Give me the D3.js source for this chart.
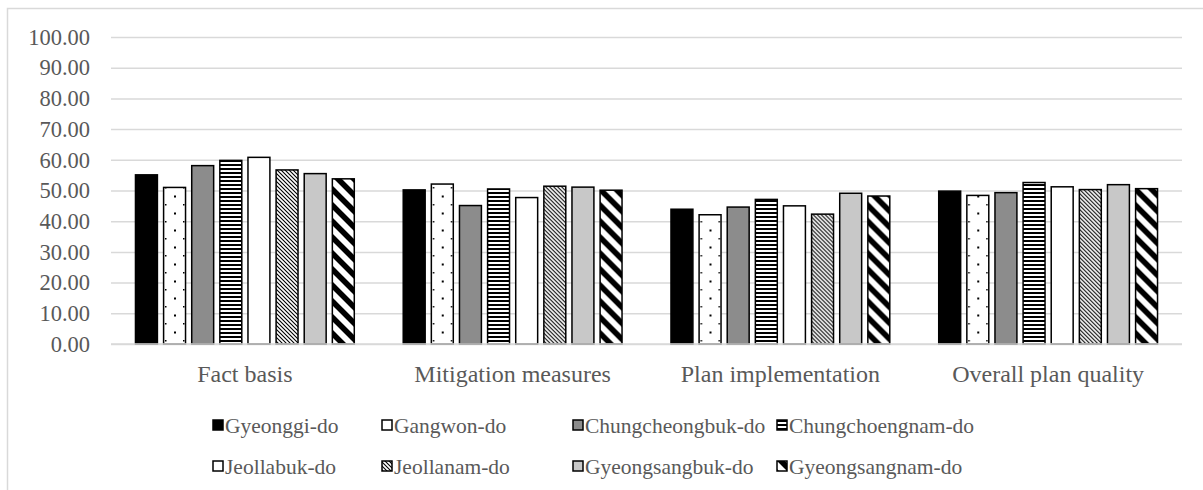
<!DOCTYPE html>
<html>
<head>
<meta charset="utf-8">
<script src="https://cdn.jsdelivr.net/npm/d3@7"></script>
<style>
  html, body { margin: 0; padding: 0; background: #ffffff; }
  svg { display: block; }
  text { font-family: "Liberation Serif", "Times New Roman", serif; fill: #595959; }
</style>
</head>
<body>
<svg id="chart" width="1203" height="490"></svg>
<script>
// ---- data ----
const categories = ["Fact basis", "Mitigation measures", "Plan implementation", "Overall plan quality"];
const regions = ["Gyeonggi-do", "Gangwon-do", "Chungcheongbuk-do", "Chungchoengnam-do",
                 "Jeollabuk-do", "Jeollanam-do", "Gyeongsangbuk-do", "Gyeongsangnam-do"];
const gyeonggi      = [55.1, 50.2, 43.9, 49.8];
const gangwon       = [51.0, 52.1, 42.1, 48.4];
const chungbuk      = [58.1, 45.1, 44.6, 49.3];
const chungnam      = [59.8, 50.5, 47.1, 52.6];
const jeollabuk     = [60.8, 47.7, 45.0, 51.2];
const jeollanam     = [56.7, 51.4, 42.3, 50.3];
const gyeongbuk     = [55.5, 51.1, 49.1, 51.9];
const gyeongnam     = [53.8, 50.1, 48.2, 50.6];
const yTicks = [0, 10, 20, 30, 40, 50, 60, 70, 80, 90, 100];

const seriesValues = [gyeonggi, gangwon, chungbuk, chungnam, jeollabuk, jeollanam, gyeongbuk, gyeongnam];

// ---- layout ----
const svg = d3.select("#chart");
const W = 1203, H = 490;
const plot = { left: 111, right: 1182, top: 37, bottom: 344 };
const TICK_FONT = 22.5, CAT_FONT = 24, LEG_FONT = 21.5;
const SERIF = "'Liberation Serif', 'Times New Roman', serif";

// chart border
svg.append("rect").attr("x", 7.5).attr("y", 8.5).attr("width", W + 10).attr("height", H + 10)
  .attr("fill", "none").attr("stroke", "#d9d9d9").attr("stroke-width", 1.5);

// patterns
const defs = svg.append("defs");
function pat(id, w, h) {
  return defs.append("pattern").attr("id", id).attr("patternUnits", "userSpaceOnUse")
    .attr("width", w).attr("height", h);
}
// dots
let p = pat("p-dots", 18, 17);
p.append("rect").attr("width", 18).attr("height", 17).attr("fill", "#fff");
p.append("rect").attr("x", 0).attr("y", 0).attr("width", 1.5).attr("height", 1.5).attr("fill", "#000");
p.append("rect").attr("x", 9).attr("y", 8.5).attr("width", 2).attr("height", 2).attr("fill", "#000");
// horizontal stripes
p = pat("p-hstripe", 8, 4);
p.append("rect").attr("width", 8).attr("height", 4).attr("fill", "#fff");
p.append("rect").attr("y", 0).attr("width", 8).attr("height", 2).attr("fill", "#000");
// narrow downward diagonal
p = pat("p-ndiag", 4, 4);
p.append("rect").attr("width", 4).attr("height", 4).attr("fill", "#fff");
p.append("path").attr("d", "M-1,-1 L5,5 M-1,3 L1,5 M3,-1 L5,1").attr("stroke", "#000").attr("stroke-width", 1.1);
// wide downward diagonal
p = pat("p-wdiag", 16, 16);
p.append("rect").attr("width", 16).attr("height", 16).attr("fill", "#fff");
p.append("path").attr("d", "M-4,-4 L20,20 M-4,12 L4,20 M12,-4 L20,4").attr("stroke", "#000").attr("stroke-width", 5.6);

const fills = ["#000000", "url(#p-dots)", "#8c8c8c", "url(#p-hstripe)",
               "#ffffff", "url(#p-ndiag)", "#c8c8c8", "url(#p-wdiag)"];

// scales
const y = d3.scaleLinear().domain([0, 100]).range([plot.bottom, plot.top]);
const x0 = d3.scaleBand().domain(categories).range([plot.left, plot.right]).padding(0);
const x1 = d3.scaleBand().domain(regions).range([0, x0.bandwidth()]).paddingInner(0.22).paddingOuter(0.87);

// gridlines + tick labels
const yAxis = d3.axisLeft(y).tickValues(yTicks).tickSize(-(plot.right - plot.left)).tickPadding(21)
  .tickFormat(d3.format(".2f"));
const gy = svg.append("g").attr("transform", `translate(${plot.left},0)`).call(yAxis);
gy.select(".domain").remove();
gy.selectAll(".tick line").attr("stroke", "#d9d9d9").attr("stroke-width", 1.5);
gy.selectAll(".tick text").style("font-size", TICK_FONT + "px").attr("fill", "#595959")
  .style("font-family", SERIF);

// bars
const groups = svg.append("g").selectAll("g").data(categories).join("g")
  .attr("transform", d => `translate(${x0(d)},0)`);
groups.selectAll("rect").data((c, ci) => regions.map((r, ri) => ({ r, ri, v: seriesValues[ri][ci] })))
  .join("rect")
  .attr("x", d => x1(d.r))
  .attr("y", d => y(d.v))
  .attr("width", x1.bandwidth())
  .attr("height", d => y(0) - y(d.v))
  .attr("fill", d => fills[d.ri])
  .attr("stroke", "#000")
  .attr("stroke-width", 1.5);

// baseline
svg.append("line").attr("x1", plot.left).attr("x2", plot.right).attr("y1", y(0)).attr("y2", y(0))
  .attr("stroke", "#d9d9d9").attr("stroke-width", 1.5);

// category labels
const xAxis = d3.axisBottom(x0).tickSize(0).tickPadding(21);
const gx = svg.append("g").attr("transform", `translate(0,${plot.bottom})`).call(xAxis);
gx.select(".domain").remove();
gx.selectAll(".tick text").style("font-size", CAT_FONT + "px").attr("fill", "#595959")
  .style("font-family", SERIF);

// legend
const colX = [213, 382, 573, 777];
const rowY = [425, 466];
const leg = svg.append("g");
regions.forEach((r, i) => {
  const cx = colX[i % 4], cy = rowY[Math.floor(i / 4)];
  leg.append("rect").attr("x", cx).attr("y", cy - 5).attr("width", 10).attr("height", 10)
    .attr("fill", fills[i]).attr("stroke", "#000").attr("stroke-width", 1.5);
  leg.append("text").attr("x", cx + 12).attr("y", cy).attr("dy", "0.35em")
    .style("font-size", LEG_FONT + "px").style("font-family", SERIF).text(r);
});
</script>
</body>
</html>
